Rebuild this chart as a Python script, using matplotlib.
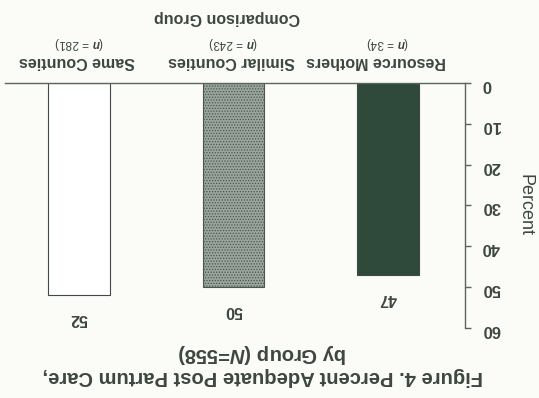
import matplotlib
matplotlib.use("Agg")
import matplotlib.pyplot as plt
from matplotlib.transforms import blended_transform_factory

plt.rcParams['font.family'] = ['Liberation Sans', 'DejaVu Sans']
plt.rcParams['mathtext.fontset'] = 'custom'
plt.rcParams['mathtext.it'] = 'Liberation Sans:italic:bold'
plt.rcParams['mathtext.rm'] = 'Liberation Sans'
plt.rcParams['hatch.linewidth'] = 0.6

categories = ["Resource Mothers", "Similar Counties", "Same Counties"]
n_labels = ["34", "243", "281"]
values = [47, 50, 52]
group_label = "Comparison Group"
yticks = [0, 10, 20, 30, 40, 50, 60]

txt = '#3b4740'
bg = '#fbfbf8'

fig = plt.figure(figsize=(5.39, 3.98), dpi=100, facecolor=bg)
ax = fig.add_axes([0.009, 0.176, 0.854, 0.616], facecolor=bg)

x = list(range(len(categories)))
faces = ['#2f4a3b', '#9aa59d', '#ffffff']
hatches = [None, '......', None]
for xi, v, fc, h in zip(x, values, faces, hatches):
    ax.bar(xi, v, width=0.4, color=fc, edgecolor='#4a564e' if h else '#3e4a43',
           hatch=h, linewidth=0.8, zorder=2)
    ax.annotate(str(v), (xi, v), xytext=(0, -17), textcoords='offset points',
                rotation=180, ha='center', va='center', fontsize=11.5,
                fontweight='bold', color=txt)

# whole chart is shown rotated by 180 degrees
ax.set_xlim(2.48, -0.5)
ax.set_ylim(60, 0)

for s in ['left', 'bottom']:
    ax.spines[s].set_visible(False)
for s in ['top', 'right']:
    ax.spines[s].set_color('#5a655e')
    ax.spines[s].set_linewidth(1.0)

ax.set_xticks([])
ax.yaxis.tick_right()
ax.set_yticks(yticks)
ax.set_yticklabels([str(t) for t in yticks])
ax.tick_params(axis='y', direction='out', length=4, width=1.0, color='#5a655e',
               labelrotation=180, labelsize=12, labelcolor=txt, pad=8)
for lab in ax.get_yticklabels():
    lab.set_fontweight('bold')

ax.yaxis.set_label_position('right')
ax.set_ylabel("Percent", rotation=270, fontsize=13, color=txt, labelpad=24)

trans = blended_transform_factory(ax.transData, ax.transAxes)
for xi, c, n in zip(x, categories, n_labels):
    ax.text(xi + 0.08 if xi == 0 else xi + 0.01, 1.086, c, transform=trans,
            rotation=180, ha='center', va='center', fontsize=11.5,
            fontweight='bold', color=txt)
    ax.text(xi, 1.163, r"($\mathit{n}$ = " + n + ")", transform=trans,
            rotation=180, ha='center', va='center', fontsize=8.5, color=txt)
ax.text(1.04, 1.265, group_label, transform=trans, rotation=180,
        ha='center', va='center', fontsize=11.5, fontweight='bold', color=txt)

fig.text(0.487, 0.085,
         "Figure 4. Percent Adequate Post Partum Care,\nby Group (" + r"$\mathit{N}$" + "=558)",
         rotation=180, ha='center', va='center', fontsize=14.5,
         fontweight='bold', color=txt, linespacing=1.1)

fig.savefig("out.png", dpi=100, facecolor=bg)
